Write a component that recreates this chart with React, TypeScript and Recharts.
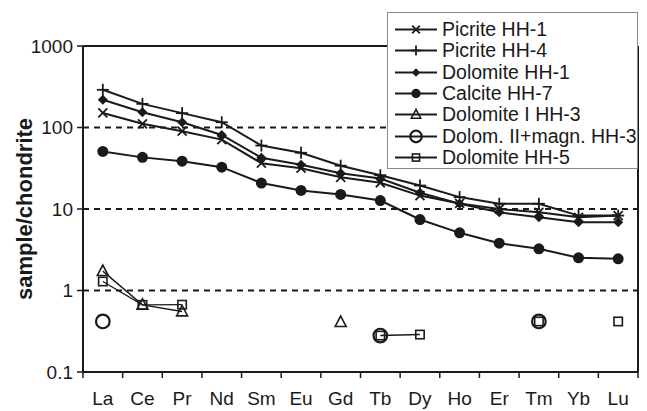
import React from 'react';
import { LineChart, Line, XAxis, YAxis, ReferenceLine, Legend, Label } from 'recharts';

const categories = ['La', 'Ce', 'Pr', 'Nd', 'Sm', 'Eu', 'Gd', 'Tb', 'Dy', 'Ho', 'Er', 'Tm', 'Yb', 'Lu'];
const picriteHH1 = [151, 111, 90, 71, 36.5, 31.7, 24.5, 21, 14.6, 11.7, 10, 9.1, 7.9, 8.3];
const picriteHH4 = [290, 195, 150, 116, 60, 49, 34, 26, 19.4, 14, 11.6, 11.6, 8.3, 8.3];
const dolomiteHH1 = [219, 154, 116, 81, 42.5, 35, 27.5, 23.7, 15.8, 11.6, 9.1, 7.9, 6.9, 6.9];
const calciteHH7 = [50.8, 43, 38.6, 32.6, 20.8, 16.9, 15.1, 12.7, 7.43, 5.1, 3.81, 3.25, 2.52, 2.45];
const dolomiteIHH3 = [1.73, 0.667, 0.553, null, null, null, 0.41, null, null, null, null, null, null, null];
const dolomIIHH3 = [0.417, null, null, null, null, null, null, 0.28, null, null, null, 0.417, null, null];
const dolomiteHH5 = [1.29, 0.667, 0.67, null, null, null, null, 0.28, 0.288, null, null, 0.417, null, 0.417];
const yTicks = [0.1, 1, 10, 100, 1000];
const gridValues = [1, 10, 100];

const W = 647;
const H = 411;
const M = { top: 46, right: 9, bottom: 0, left: 0 };
const Y_W = 83;
const X_H = 39;
const STEP = (W - Y_W - M.right) / categories.length;
const INK = '#1a1a1a';
const FONT = '"Liberation Sans", Arial, Helvetica, sans-serif';

type Shape = 'cross' | 'plus' | 'diamond' | 'dot' | 'triangle' | 'ring' | 'square';

const series: { key: string; name: string; values: (number | null)[]; shape: Shape; width: number }[] = [
  { key: 's1', name: 'Picrite HH-1', values: picriteHH1, shape: 'cross', width: 2 },
  { key: 's2', name: 'Picrite HH-4', values: picriteHH4, shape: 'plus', width: 2 },
  { key: 's3', name: 'Dolomite HH-1', values: dolomiteHH1, shape: 'diamond', width: 2 },
  { key: 's4', name: 'Calcite HH-7', values: calciteHH7, shape: 'dot', width: 2 },
  { key: 's5', name: 'Dolomite I HH-3', values: dolomiteIHH3, shape: 'triangle', width: 1.4 },
  { key: 's6', name: 'Dolom. II+magn. HH-3', values: dolomIIHH3, shape: 'ring', width: 1.4 },
  { key: 's7', name: 'Dolomite HH-5', values: dolomiteHH5, shape: 'square', width: 1.4 },
];

const data = categories.map((c, i) => {
  const row: Record<string, any> = { x: i + 0.5, name: c };
  series.forEach((s) => {
    row[s.key] = s.values[i];
  });
  return row;
});

function marker(shape: Shape, cx: number, cy: number, k: string | number, scale = 1) {
  const sw = 1.8;
  switch (shape) {
    case 'cross': {
      const r = 4.5 * scale;
      return (
        <g key={k}>
          <line x1={cx - r} y1={cy - r} x2={cx + r} y2={cy + r} stroke={INK} strokeWidth={sw} />
          <line x1={cx - r} y1={cy + r} x2={cx + r} y2={cy - r} stroke={INK} strokeWidth={sw} />
        </g>
      );
    }
    case 'plus': {
      const r = 6 * scale;
      return (
        <g key={k}>
          <line x1={cx - r} y1={cy} x2={cx + r} y2={cy} stroke={INK} strokeWidth={sw} />
          <line x1={cx} y1={cy - r} x2={cx} y2={cy + r} stroke={INK} strokeWidth={sw} />
        </g>
      );
    }
    case 'diamond': {
      const r = 5 * scale;
      return <polygon key={k} points={`${cx},${cy - r} ${cx + r},${cy} ${cx},${cy + r} ${cx - r},${cy}`} fill={INK} />;
    }
    case 'dot':
      return <circle key={k} cx={cx} cy={cy} r={5.5 * scale} fill={INK} />;
    case 'triangle': {
      const r = 5.5 * scale;
      return (
        <polygon
          key={k}
          points={`${cx},${cy - r * 1.1} ${cx + r},${cy + r * 0.8} ${cx - r},${cy + r * 0.8}`}
          fill="none"
          stroke={INK}
          strokeWidth={1.6}
        />
      );
    }
    case 'ring':
      return <circle key={k} cx={cx} cy={cy} r={6.8 * scale} fill="none" stroke={INK} strokeWidth={2.2} />;
    case 'square': {
      const r = 4.2 * scale;
      return <rect key={k} x={cx - r} y={cy - r} width={2 * r} height={2 * r} fill="none" stroke={INK} strokeWidth={1.6} />;
    }
  }
  return <g key={k} />;
}

const makeDot = (shape: Shape) => (p: any) => {
  const k = `${shape}-${p.index}`;
  if (p.value == null || p.cy == null || p.cx == null || Number.isNaN(p.cy)) return <g key={k} />;
  return marker(shape, p.cx, p.cy, k);
};

const XTick = (p: any) => {
  const i = p.payload.value;
  if (i >= categories.length) return <g />;
  return (
    <text x={p.x + STEP / 2} y={p.y} dy={25} textAnchor="middle" fontSize={19} fill={INK} fontFamily={FONT}>
      {categories[i]}
    </text>
  );
};

const LegendBox = () => (
  <div
    style={{
      boxSizing: 'border-box',
      width: '100%',
      height: '100%',
      border: '1px solid #8a8a8a',
      background: '#fff',
      paddingTop: 6,
      fontFamily: FONT,
      fontSize: 19.5,
      color: INK,
    }}
  >
    {series.map((s) => (
      <div key={s.key} style={{ display: 'flex', alignItems: 'center', height: 21.3, whiteSpace: 'nowrap' }}>
        <svg width={54} height={21} style={{ display: 'block', flex: 'none' }}>
          <line x1={7} y1={10.5} x2={49} y2={10.5} stroke={INK} strokeWidth={2} />
          {marker(s.shape, 28, 10.5, s.key, 0.85)}
        </svg>
        <span style={{ lineHeight: '21px' }}>{s.name}</span>
      </div>
    ))}
  </div>
);

export default function App() {
  return (
    <div style={{ position: 'absolute', left: 0, top: 0 }}>
      <LineChart width={W} height={H} data={data} margin={M}>
        <XAxis
          dataKey="x"
          type="number"
          domain={[0, categories.length]}
          ticks={categories.map((_, i) => i).concat([categories.length])}
          interval={0}
          height={X_H}
          tickSize={6}
          tickMargin={2}
          tick={<XTick />}
          axisLine={{ stroke: INK, strokeWidth: 2 }}
          tickLine={{ stroke: INK, strokeWidth: 1.5 }}
          allowDataOverflow
        />
        <YAxis
          type="number"
          scale="log"
          domain={[0.1, 1000]}
          ticks={yTicks}
          interval={0}
          allowDataOverflow
          width={Y_W}
          tickSize={6}
          tickMargin={4}
          tickFormatter={(v: number) => String(v)}
          tick={{ fontSize: 19, fill: INK, fontFamily: FONT }}
          axisLine={{ stroke: INK, strokeWidth: 2 }}
          tickLine={{ stroke: INK, strokeWidth: 1.5 }}
        >
          <Label
            content={(props: any) => {
              const vb = props.viewBox || { x: 0, y: M.top, width: Y_W, height: H - M.top - X_H };
              const cx = vb.x + 24;
              const cy = vb.y + vb.height / 2;
              return (
                <text
                  x={cx}
                  y={cy}
                  transform={`rotate(-90, ${cx}, ${cy})`}
                  textAnchor="middle"
                  dominantBaseline="central"
                  fontSize={22}
                  fontWeight="bold"
                  fill={INK}
                  fontFamily={FONT}
                >
                  sample/chondrite
                </text>
              );
            }}
          />
        </YAxis>
        {gridValues.map((v) => (
          <ReferenceLine key={v} y={v} stroke={INK} strokeWidth={2} strokeDasharray="6 5" />
        ))}
        <ReferenceLine y={1000} stroke={INK} strokeWidth={2} />
        <ReferenceLine x={categories.length} stroke={INK} strokeWidth={2} />
        {series.map((s) => (
          <Line
            key={s.key}
            dataKey={s.key}
            name={s.name}
            stroke={INK}
            strokeWidth={s.width}
            dot={makeDot(s.shape)}
            activeDot={false}
            connectNulls={false}
            isAnimationActive={false}
          />
        ))}
        <Legend
          layout="vertical"
          align="center"
          verticalAlign="middle"
          content={<LegendBox />}
          wrapperStyle={{ left: 387, top: 12, width: 251, height: 157, right: 'auto', bottom: 'auto' }}
        />
      </LineChart>
    </div>
  );
}
